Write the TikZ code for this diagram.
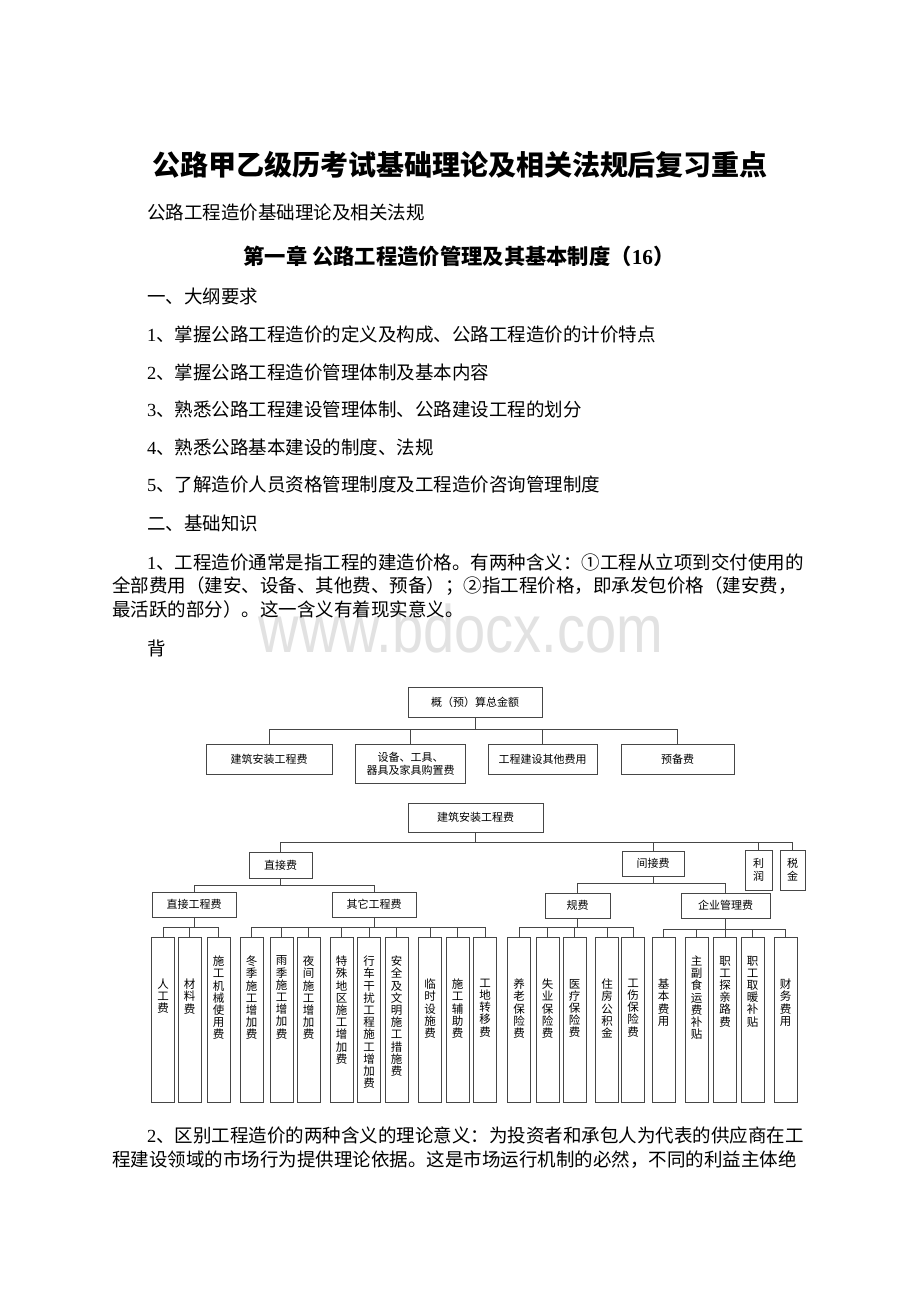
\documentclass[tikz,border=0pt]{standalone}
\usepackage{fontspec}
\setmainfont{Liberation Serif}
\newfontfamily\cjk{Noto Sans CJK SC}
\newfontfamily\wm{Liberation Sans}
\definecolor{xian}{RGB}{70, 70, 70}
\definecolor{shui}{RGB}{226, 226, 226}
\tikzset{
  feibox/.style={draw=xian, line width=0.9pt, inner sep=0pt, align=center, font=\cjk\fontsize{11}{13}\selectfont},
  shubox/.style={feibox, minimum width=23pt, minimum height=165pt, anchor=north, font=\cjk\fontsize{11.5}{12.2}\selectfont},
  lian/.style={draw=xian, line width=0.8pt},
  zi/.style={anchor=west, inner sep=0pt, font=\cjk\fontsize{18.5}{22}\selectfont}
}
% vertical label, one character per line
\newcommand\shu[2][34pt]{\parbox[c][150pt][t]{14pt}{\centering\vspace*{#1}\shuloop#2\relax}}
\def\shuloop#1{\ifx\relax#1\else#1\par\expandafter\shuloop\fi}

\begin{document}
\begin{tikzpicture}[x=1pt, y=-1pt]
    \useasboundingbox (0,0) rectangle (920,1302);
    \fill[white] (0,0) rectangle (920,1302);
    \node[inner sep=0pt, anchor=base, text=shui, font=\wm\fontsize{56}{60}\selectfont] (shuiyin) at (461,652) {\scalebox{1}[1.2]{www.bdocx.com}};

    % page text
    \node[inner sep=0pt, font=\cjk\bfseries\fontsize{28}{32}\selectfont] (biaoti) at (460,165) {公路甲乙级历考试基础理论及相关法规后复习重点};
    \node[zi] (fubiao) at (147,213) {公路工程造价基础理论及相关法规};
    \node[inner sep=0pt, font=\cjk\bfseries\fontsize{21.3}{25}\selectfont] (zhang) at (459,256) {第一章 公路工程造价管理及其基本制度（{\rmfamily\bfseries 16}）};
    \node[zi] (dagang) at (147,296) {一、大纲要求};
    \node[zi] (yq1) at (147,334) {{\rmfamily 1}、掌握公路工程造价的定义及构成、公路工程造价的计价特点};
    \node[zi] (yq2) at (147,372) {{\rmfamily 2}、掌握公路工程造价管理体制及基本内容};
    \node[zi] (yq3) at (147,409) {{\rmfamily 3}、熟悉公路工程建设管理体制、公路建设工程的划分};
    \node[zi] (yq4) at (147,447) {{\rmfamily 4}、熟悉公路基本建设的制度、法规};
    \node[zi] (yq5) at (147,485) {{\rmfamily 5}、了解造价人员资格管理制度及工程造价咨询管理制度};
    \node[zi] (jichu) at (147,523) {二、基础知识};
    \node[zi] (dl1) at (147,562) {{\rmfamily 1}、工程造价通常是指工程的建造价格。有两种含义：①工程从立项到交付使用的};
    \node[zi] (dl2) at (112,586) {全部费用（建安、设备、其他费、预备）；②指工程价格，即承发包价格（建安费，};
    \node[zi] (dl3) at (112,609) {最活跃的部分）。这一含义有着现实意义。};
    \node[zi] (bei) at (147,648) {背};
    \node[zi] (dl4) at (147,1135) {{\rmfamily 2}、区别工程造价的两种含义的理论意义：为投资者和承包人为代表的供应商在工};
    \node[zi] (dl5) at (112,1160) {程建设领域的市场行为提供理论依据。这是市场运行机制的必然，不同的利益主体绝};

    % first chart
    \node[feibox, minimum width=134pt, minimum height=30pt] (gys) at (475,702) {概（预）算总金额};
    \node[feibox, minimum width=126pt, minimum height=30pt] (jafy) at (269,759) {建筑安装工程费};
    \node[feibox, minimum width=110pt, minimum height=39pt] (sbgj) at (410.5,763.5) {设备、工具、\\器具及家具购置费};
    \node[feibox, minimum width=109pt, minimum height=30pt] (qtfy) at (542.5,759) {工程建设其他费用};
    \node[feibox, minimum width=113pt, minimum height=30pt] (ybf) at (677.5,759) {预备费};
    \draw[lian] (gys.south) -- ++(0,12) -| (jafy.north);
    \draw[lian] (gys.south) -- ++(0,12) -| (sbgj.north);
    \draw[lian] (gys.south) -- ++(0,12) -| (qtfy.north);
    \draw[lian] (gys.south) -- ++(0,12) -| (ybf.north);

    % second chart
    \node[feibox, minimum width=135pt, minimum height=29pt] (jazf) at (475.5,817.5) {建筑安装工程费};
    \node[feibox, minimum width=63pt, minimum height=26pt] (zjf) at (280.5,865) {直接费};
    \node[feibox, minimum width=62pt, minimum height=25pt] (jjf) at (653,863.5) {间接费};
    \node[feibox, minimum width=27pt, minimum height=40pt] (lr) at (758.5,870) {利\\润};
    \node[feibox, minimum width=25pt, minimum height=40pt] (sj) at (792.5,870) {税\\金};
    \draw[lian] (jazf.south) -- ++(0,10) -| (zjf.north);
    \draw[lian] (jazf.south) -- ++(0,10) -| (jjf.north);
    \draw[lian] (jazf.south) -- ++(0,10) -| (lr.north);
    \draw[lian] (jazf.south) -- ++(0,10) -| (sj.north);

    \node[feibox, minimum width=84pt, minimum height=25pt] (zjgcf) at (194,904.5) {直接工程费};
    \node[feibox, minimum width=84pt, minimum height=25pt] (qtgcf) at (374,904.5) {其它工程费};
    \node[feibox, minimum width=65pt, minimum height=25pt] (gf) at (577.5,905.5) {规费};
    \node[feibox, minimum width=89pt, minimum height=25pt] (qyglf) at (725.5,905.5) {企业管理费};
    \draw[lian] (zjf.south) -- ++(0,7) -| (zjgcf.north);
    \draw[lian] (zjf.south) -- ++(0,7) -| (qtgcf.north);
    \draw[lian] (jjf.south) -- ++(0,7) -| (gf.north);
    \draw[lian] (jjf.south) -- ++(0,7) -| (qyglf.north);

    \node[shubox] (rgf) at (163,937) {\shu{人工费}};
    \node[shubox] (clf) at (189.5,937) {\shu{材料费}};
    \node[shubox] (jxf) at (218.5,937) {\shu[11pt]{施工机械使用费}};
    \draw[lian] (zjgcf.south) -- ++(0,10) -| (rgf.north);
    \draw[lian] (zjgcf.south) -- ++(0,10) -| (clf.north);
    \draw[lian] (zjgcf.south) -- ++(0,10) -| (jxf.north);

    \node[shubox] (djf) at (251.5,937) {\shu[11pt]{冬季施工增加费}};
    \node[shubox] (yjf) at (281.5,937) {\shu[11pt]{雨季施工增加费}};
    \node[shubox] (yejf) at (308.5,937) {\shu[11pt]{夜间施工增加费}};
    \node[shubox] (tsf) at (341.5,937) {\shu[11pt]{特殊地区施工增加费}};
    \node[shubox] (xcf) at (369,937) {\shu[11pt]{行车干扰工程施工增加费}};
    \node[shubox] (aqf) at (396.5,937) {\shu[11pt]{安全及文明施工措施费}};
    \node[shubox] (lsf) at (430,937) {\shu{临时设施费}};
    \node[shubox] (fzf) at (457.5,937) {\shu{施工辅助费}};
    \node[shubox] (zyf) at (485,937) {\shu{工地转移费}};
    \draw[lian] (qtgcf.south) -- ++(0,10) -| (djf.north);
    \draw[lian] (qtgcf.south) -- ++(0,10) -| (yjf.north);
    \draw[lian] (qtgcf.south) -- ++(0,10) -| (yejf.north);
    \draw[lian] (qtgcf.south) -- ++(0,10) -| (tsf.north);
    \draw[lian] (qtgcf.south) -- ++(0,10) -| (xcf.north);
    \draw[lian] (qtgcf.south) -- ++(0,10) -| (aqf.north);
    \draw[lian] (qtgcf.south) -- ++(0,10) -| (lsf.north);
    \draw[lian] (qtgcf.south) -- ++(0,10) -| (fzf.north);
    \draw[lian] (qtgcf.south) -- ++(0,10) -| (zyf.north);

    \node[shubox] (ylf) at (519,937) {\shu{养老保险费}};
    \node[shubox] (syf) at (547.5,937) {\shu{失业保险费}};
    \node[shubox] (ylbf) at (574.5,937) {\shu{医疗保险费}};
    \node[shubox] (zfgj) at (607,937) {\shu{住房公积金}};
    \node[shubox] (gsf) at (633,937) {\shu{工伤保险费}};
    \draw[lian] (gf.south) -- ++(0,9) -| (ylf.north);
    \draw[lian] (gf.south) -- ++(0,9) -| (syf.north);
    \draw[lian] (gf.south) -- ++(0,9) -| (ylbf.north);
    \draw[lian] (gf.south) -- ++(0,9) -| (zfgj.north);
    \draw[lian] (gf.south) -- ++(0,9) -| (gsf.north);

    \node[shubox] (jbfy) at (663.5,937) {\shu{基本费用}};
    \node[shubox] (zfsf) at (696.5,937) {\shu[11pt]{主副食运费补贴}};
    \node[shubox] (tqf) at (725,937) {\shu[11pt]{职工探亲路费}};
    \node[shubox] (qnf) at (752.5,937) {\shu[11pt]{职工取暖补贴}};
    \node[shubox] (cwf) at (785.5,937) {\shu{财务费用}};
    \draw[lian] (qyglf.south) -- ++(0,11) -| (jbfy.north);
    \draw[lian] (qyglf.south) -- ++(0,11) -| (zfsf.north);
    \draw[lian] (qyglf.south) -- ++(0,11) -| (tqf.north);
    \draw[lian] (qyglf.south) -- ++(0,11) -| (qnf.north);
    \draw[lian] (qyglf.south) -- ++(0,11) -| (cwf.north);
\end{tikzpicture}
\end{document}
